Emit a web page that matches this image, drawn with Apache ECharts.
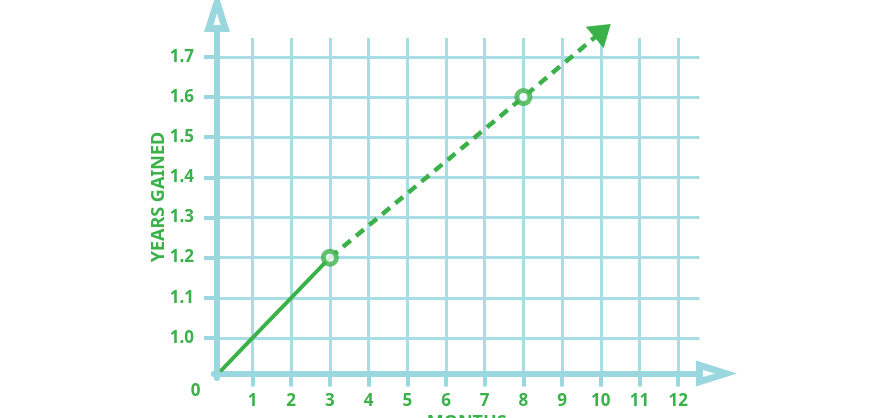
<!DOCTYPE html>
<html>
<head>
<meta charset="utf-8">
<script src="https://cdn.jsdelivr.net/npm/echarts@6/dist/echarts.min.js"></script>
<style>
  html, body { margin: 0; padding: 0; background: #ffffff; }
  #chart { width: 880px; height: 418px; }
</style>
</head>
<body>
<div id="chart"></div>
<script>
// ---- data ----
const monthTicks = [1, 2, 3, 4, 5, 6, 7, 8, 9, 10, 11, 12];
const yearTicks = [1.0, 1.1, 1.2, 1.3, 1.4, 1.5, 1.6, 1.7];
const originLabel = '0';
const xTitle = 'MONTHS';
const yTitle = 'YEARS GAINED';
// measured part of the line (solid)
const solidLine = [[0.2, 0.92], [1, 1.0], [2, 1.1], [3, 1.2]];
// projected part (dashed), ending in an arrow head
const dashedLine = [[3, 1.2], [8, 1.6]];
const arrowEnd = [10.05, 1.765];
// highlighted points
const keyPoints = [[3, 1.2], [8, 1.6]];

// ---- styles ----
const GREEN = '#3bb14a';
const AXIS_BLUE = '#9bd7df';
const GRID_BLUE = '#a8dde4';
const FONT = '"Noto Sans", sans-serif';

// arrow head with a small hole (pointing up), x axis: no stem
const arrowX = 'path://M13 0 L26 41 L0 41 Z M13 22 L9.5 34 L16.5 34 Z';
// y axis arrow with a short stem reaching down to the grid top
const arrowY = 'path://M13 0 L26 41 L16 41 L16 47 L10 47 L10 41 L0 41 Z M13 22 L9.5 34 L16.5 34 Z';

const chart = echarts.init(document.getElementById('chart'), null, { renderer: 'canvas' });

function buildOption(arrowRotate) {
  const dashedData = dashedLine.map(p => ({ value: p, symbol: 'none' }));
  dashedData.push({ value: arrowEnd, symbol: 'triangle', symbolSize: [28, 21], symbolRotate: arrowRotate });
  return {
    animation: false,
    backgroundColor: '#ffffff',
    grid: { left: 213.8, right: 180.5, top: 38, bottom: 39.9, containLabel: false, outerBoundsMode: 'none' },
    xAxis: {
      type: 'value',
      min: 0,
      max: 12.55,
      offset: -4.6,
      name: xTitle,
      nameLocation: 'middle',
      nameGap: 40,
      nameMoveOverlap: false,
      nameTextStyle: { color: GREEN, fontFamily: FONT, fontWeight: 'bold', fontSize: 18, padding: [0, 0, 0, 20] },
      axisLine: {
        show: true,
        symbol: ['none', arrowX],
        symbolSize: [26, 41],
        symbolOffset: [0, 17],
        lineStyle: { color: AXIS_BLUE, width: 6 }
      },
      axisTick: { show: true, length: 13, customValues: monthTicks, lineStyle: { color: AXIS_BLUE, width: 4 } },
      axisLabel: {
        customValues: monthTicks,
        margin: 19,
        color: GREEN,
        fontFamily: FONT,
        fontWeight: 'bold',
        fontSize: 17,
        formatter: v => String(v)
      },
      splitLine: { show: true, lineStyle: { color: GRID_BLUE, width: 3 } }
    },
    yAxis: {
      type: 'value',
      min: 0.9,
      max: 1.747,
      offset: -3.2,
      name: yTitle,
      nameLocation: 'middle',
      nameGap: 49,
      nameMoveOverlap: false,
      nameTextStyle: { color: GREEN, fontFamily: FONT, fontWeight: 'bold', fontSize: 18, padding: [0, 0, 0, 22] },
      axisLine: {
        show: true,
        symbol: ['none', arrowY],
        symbolSize: [26, 47],
        symbolOffset: [0, 23.5],
        lineStyle: { color: AXIS_BLUE, width: 6 }
      },
      axisTick: { show: true, length: 13, customValues: yearTicks, lineStyle: { color: AXIS_BLUE, width: 4 } },
      axisLabel: {
        customValues: yearTicks,
        margin: 23,
        color: GREEN,
        fontFamily: FONT,
        fontWeight: 'bold',
        fontSize: 17,
        formatter: v => Number(v).toFixed(1)
      },
      splitLine: { show: true, lineStyle: { color: GRID_BLUE, width: 3 } }
    },
    graphic: [{
      type: 'text',
      x: 195.5,
      y: 391,
      style: {
        text: originLabel,
        fill: GREEN,
        font: 'bold 17px ' + FONT,
        align: 'center',
        verticalAlign: 'middle'
      }
    }],
    series: [
      {
        type: 'line',
        data: solidLine,
        showSymbol: false,
        symbol: 'none',
        lineStyle: { color: GREEN, width: 4, cap: 'round' },
        z: 3,
        silent: true
      },
      {
        type: 'line',
        data: dashedData,
        clip: false,
        showSymbol: true,
        showAllSymbol: true,
        itemStyle: { color: GREEN, borderWidth: 0 },
        lineStyle: { color: GREEN, width: 4.5, type: [10, 7] },
        z: 3,
        silent: true
      },
      {
        type: 'scatter',
        data: keyPoints,
        symbol: 'circle',
        symbolSize: 13,
        itemStyle: { color: '#ffffff', borderColor: GREEN, borderWidth: 5 },
        z: 5,
        silent: true
      }
    ]
  };
}

chart.setOption(buildOption(0));
// orient the arrow head along the projected line using the chart's own scales
const pA = chart.convertToPixel({ gridIndex: 0 }, dashedLine[dashedLine.length - 1]);
const pB = chart.convertToPixel({ gridIndex: 0 }, arrowEnd);
const angleDeg = Math.atan2(pA[1] - pB[1], pB[0] - pA[0]) * 180 / Math.PI;
chart.setOption(buildOption(angleDeg - 90));
</script>
</body>
</html>
